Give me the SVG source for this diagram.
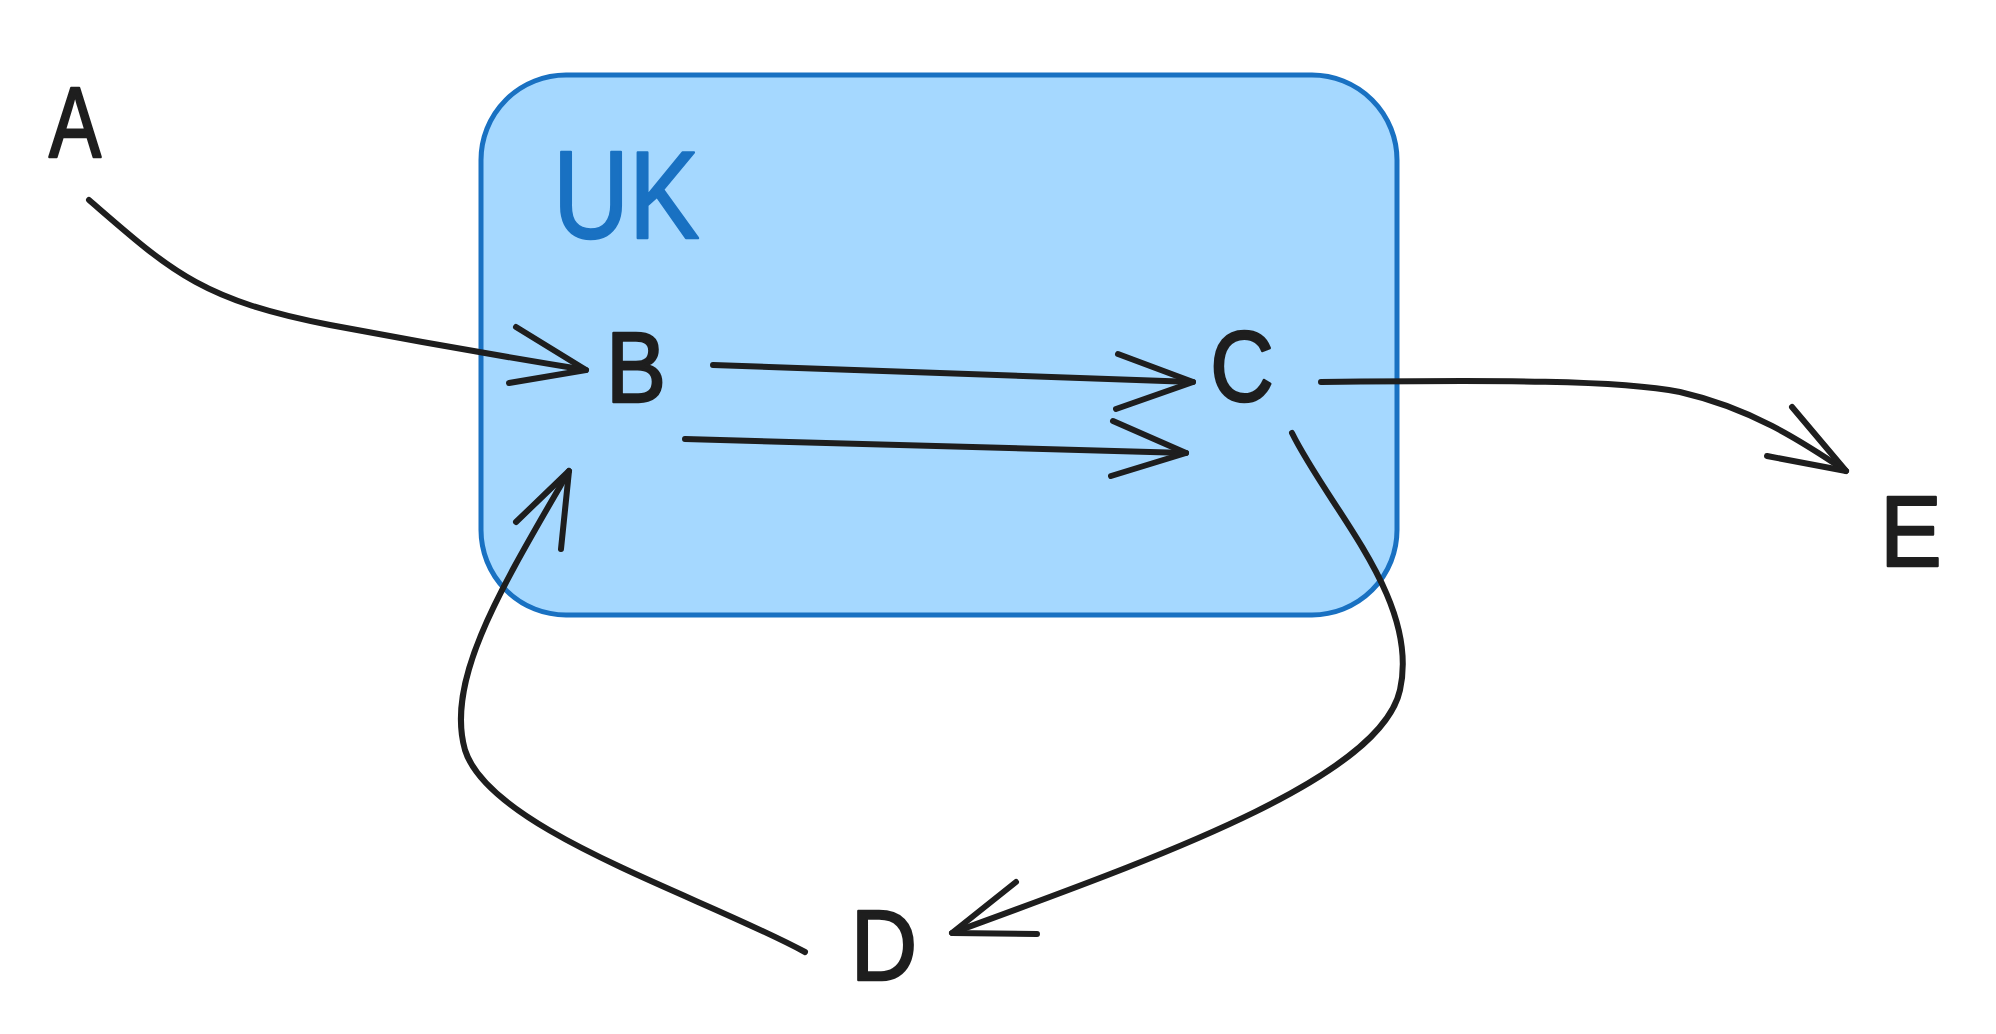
<svg xmlns="http://www.w3.org/2000/svg" width="1996" height="1034" viewBox="0 0 1996 1034">
<style>
.lbl{font-family:"Liberation Sans","DejaVu Sans",sans-serif;font-size:100px;fill:#1e1e1e;stroke:#1e1e1e;stroke-width:2.5;stroke-linejoin:round;text-anchor:middle}
.uk{font-family:"Liberation Sans","DejaVu Sans",sans-serif;font-size:124px;fill:#1971c2;stroke:#1971c2;stroke-width:2.5;stroke-linejoin:round}
.edge{fill:none;stroke:#1e1e1e;stroke-width:6;stroke-linecap:round;stroke-linejoin:round}
</style>
<rect width="1996" height="1034" fill="#ffffff"/>
<g id="uk">
<rect x="481" y="75" width="916" height="540" rx="85" ry="85" fill="#a5d8ff" stroke="#1971c2" stroke-width="5"/>
<text class="uk" transform="translate(553,238) scale(0.85,1)" x="0" y="0">UK</text>
</g>
<g id="A"><text class="lbl" transform="translate(75,157) scale(0.78,1)" x="0" y="0">A</text></g>
<g id="B"><text class="lbl" transform="translate(636,402) scale(0.9,1)" x="0" y="0">B</text></g>
<g id="C"><text class="lbl" transform="translate(1242,401) scale(0.88,1)" x="0" y="0">C</text></g>
<g id="D"><text class="lbl" transform="translate(884,980) scale(0.92,1)" x="0" y="0">D</text></g>
<g id="E"><text class="lbl" transform="translate(1911,566) scale(0.92,1)" x="0" y="0">E</text></g>
<g id="connectors">
<path class="edge" d="M89,200 C170,270 200,300 330,325 C420,342 500,356 586,370"/>
<polyline class="edge" points="516,327 586,370 509,383"/>
<path class="edge" d="M713,365 L1193,382"/>
<polyline class="edge" points="1118,354 1193,382 1116,409"/>
<path class="edge" d="M685,439 L1186,453"/>
<polyline class="edge" points="1113,421 1186,453 1111,476"/>
<path class="edge" d="M1321,382 C1500,380 1620,380 1680,392 C1750,408 1800,440 1846,471"/>
<polyline class="edge" points="1792,407 1846,471 1767,456"/>
<path class="edge" d="M1292,433 C1330,510 1420,600 1400,690 C1380,780 1150,860 952,933"/>
<polyline class="edge" points="1016,882 952,933 1037,934"/>
<path class="edge" d="M805,952 C700,895 490,830 465,750 C445,680 500,590 569,471"/>
<polyline class="edge" points="516,522 569,471 561,549"/>
</g>
</svg>
